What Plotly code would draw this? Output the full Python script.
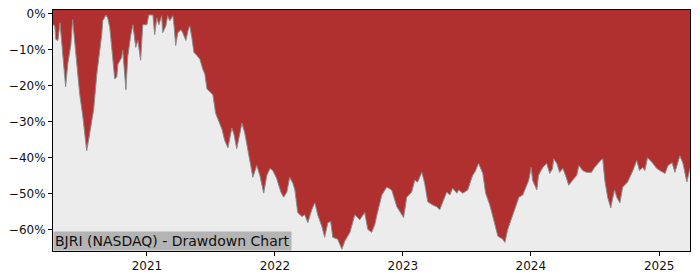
import plotly.graph_objects as go

# Drawdown of BJRI (percent below running peak)
dates = [
    "2020-04-08", "2020-04-13", "2020-04-16", "2020-04-22", "2020-04-28", "2020-05-03", "2020-05-06",
    "2020-05-14", "2020-05-20", "2020-05-29", "2020-06-03", "2020-06-09", "2020-06-15", "2020-06-23",
    "2020-07-02", "2020-07-10", "2020-07-13", "2020-07-19", "2020-07-28", "2020-08-02", "2020-08-11",
    "2020-08-19", "2020-08-25", "2020-08-28", "2020-09-06", "2020-09-11", "2020-09-17", "2020-09-26",
    "2020-10-01", "2020-10-07", "2020-10-10", "2020-10-21", "2020-10-24", "2020-11-02", "2020-11-07",
    "2020-11-16", "2020-11-22", "2020-11-30", "2020-12-06", "2020-12-14", "2020-12-20",
    "2021-01-01", "2021-01-06", "2021-01-18", "2021-01-23", "2021-01-29", "2021-02-04", "2021-02-12",
    "2021-02-15", "2021-02-24", "2021-03-01", "2021-03-07", "2021-03-16", "2021-03-19", "2021-03-24",
    "2021-03-30", "2021-04-08", "2021-04-13", "2021-04-22", "2021-04-28", "2021-05-03", "2021-05-09",
    "2021-05-15", "2021-05-23", "2021-06-01", "2021-06-09", "2021-06-15", "2021-06-21", "2021-06-29",
    "2021-07-08", "2021-07-16", "2021-07-22", "2021-08-03", "2021-08-11", "2021-08-20", "2021-08-31",
    "2021-09-06", "2021-09-14", "2021-09-20", "2021-09-29", "2021-10-07", "2021-10-16", "2021-10-24",
    "2021-10-30", "2021-11-10", "2021-11-19", "2021-11-30", "2021-12-09", "2021-12-18", "2021-12-26",
    "2022-01-06", "2022-01-18", "2022-01-26", "2022-02-04", "2022-02-12", "2022-02-21", "2022-02-27",
    "2022-03-07", "2022-03-19", "2022-03-27", "2022-04-05", "2022-04-16", "2022-04-25", "2022-05-03",
    "2022-05-15", "2022-05-23", "2022-06-01", "2022-06-09", "2022-06-15", "2022-06-29", "2022-07-11",
    "2022-07-19", "2022-08-03", "2022-08-17", "2022-08-31", "2022-09-14", "2022-09-23", "2022-10-04",
    "2022-10-13", "2022-10-19", "2022-11-02", "2022-11-16", "2022-11-30", "2022-12-15",
    "2023-01-03", "2023-01-12", "2023-01-26", "2023-02-04", "2023-02-12", "2023-02-24", "2023-03-04",
    "2023-03-13", "2023-03-27", "2023-04-08", "2023-04-16", "2023-04-25", "2023-05-06", "2023-05-15",
    "2023-05-23", "2023-06-04", "2023-06-09", "2023-06-21", "2023-07-05", "2023-07-19", "2023-07-25",
    "2023-08-05", "2023-08-17", "2023-08-25", "2023-09-06", "2023-09-17", "2023-09-29", "2023-10-13",
    "2023-10-19", "2023-10-27", "2023-11-10", "2023-11-19", "2023-11-28", "2023-12-09", "2023-12-20",
    "2023-12-26",
    "2024-01-02", "2024-01-06", "2024-01-18", "2024-01-23", "2024-02-04", "2024-02-15", "2024-02-24",
    "2024-03-03", "2024-03-06", "2024-03-15", "2024-03-23", "2024-04-01", "2024-04-09", "2024-04-18",
    "2024-04-29", "2024-05-11", "2024-05-17", "2024-05-28", "2024-06-08", "2024-06-22", "2024-07-01",
    "2024-07-10", "2024-07-18", "2024-07-24", "2024-07-30", "2024-08-07", "2024-08-16", "2024-08-22",
    "2024-08-27", "2024-09-02", "2024-09-11", "2024-09-19", "2024-10-03", "2024-10-18", "2024-10-29",
    "2024-11-06", "2024-11-15", "2024-11-21", "2024-11-29", "2024-12-14", "2024-12-25",
    "2025-01-03", "2025-01-18", "2025-01-26", "2025-02-07", "2025-02-15", "2025-03-01", "2025-03-10",
    "2025-03-21", "2025-03-30",
]
drawdown = [
    -3.0, -3.3, -7.1, -7.4, -2.5, -7.4, -12.1,
    -20.3, -14.0, -8.5, -1.6, -7.4, -14.8, -22.2,
    -28.5, -35.9, -38.1, -34.8, -29.3, -26.6, -16.7,
    -11.2, -5.8, -1.9, -0.3, -1.1, -3.8, -12.9,
    -18.1, -17.5, -14.0, -12.1, -10.1, -21.1, -12.1,
    -5.8, -3.0, -9.3, -7.4, -12.9, -3.0,
    -3.0, -0.3, -0.3, -5.8, -1.1, -3.0, -0.5,
    -5.2, -3.3, -0.5, -1.9, -0.5, -3.0, -8.8,
    -5.2, -4.4, -5.2, -7.4, -4.7, -3.3, -6.6,
    -10.7, -11.5, -12.6, -15.3, -16.7, -20.8, -21.6,
    -22.5, -27.7, -29.0, -32.1, -35.3, -37.3, -31.8,
    -33.4, -37.5, -34.8, -30.4, -33.2, -38.6, -42.2,
    -45.5, -42.2, -44.9, -49.9, -44.9, -43.0, -43.6,
    -45.8, -49.6, -51.0, -49.6, -45.5, -47.1, -49.0,
    -55.3, -56.4, -55.9, -58.1, -54.5, -52.6, -55.9,
    -59.2, -62.2, -58.1, -57.8, -62.2, -62.7, -65.5,
    -63.3, -60.8, -55.9, -57.3, -55.3, -60.0, -60.8,
    -58.6, -55.9, -50.4, -48.2, -49.0, -53.7,
    -56.7, -51.0, -49.6, -46.3, -46.8, -44.1, -47.1,
    -52.3, -53.2, -53.7, -54.5, -52.3, -49.6, -50.4,
    -48.5, -49.9, -49.0, -49.9, -49.0, -44.9, -44.1,
    -41.6, -44.4, -49.9, -53.2, -57.3, -61.9, -62.7,
    -63.6, -60.0, -55.9, -53.7, -51.0, -50.4, -47.7,
    -46.3,
    -42.7, -46.3, -49.0, -44.9, -42.7, -41.6, -44.4,
    -43.0, -40.3, -41.6, -44.1, -43.0, -44.9, -47.7,
    -46.3, -44.9, -42.2, -43.6, -44.1, -44.1, -42.7,
    -41.6, -40.8, -40.3, -46.3, -51.0, -54.0, -51.0,
    -49.0, -51.0, -52.6, -48.2, -46.8, -43.6, -40.8,
    -43.6, -42.7, -43.6, -40.0, -41.6, -43.0,
    -43.6, -44.4, -42.2, -41.4, -44.1, -39.5, -41.6,
    -46.8, -43.0,
]

tick_vals = [0, -10, -20, -30, -40, -50, -60]
tick_text = ["0%", "\u221210%", "\u221220%", "\u221230%", "\u221240%", "\u221250%", "\u221260%"]
year_ticks = ["2021-01-01", "2022-01-01", "2023-01-01", "2024-01-01", "2025-01-01"]
year_labels = ["2021", "2022", "2023", "2024", "2025"]

Y_MIN, Y_MAX = -66.0, 1.1
RED = "#b03030"
GREY_BG = "#ececec"

fig = go.Figure()
# floor of the axis, used as the base of the grey (below-line) fill
fig.add_trace(go.Scatter(x=dates, y=[Y_MIN] * len(dates), mode="lines",
                         line=dict(width=0, color=GREY_BG), hoverinfo="skip"))
fig.add_trace(go.Scatter(x=dates, y=drawdown, mode="lines", fill="tonexty",
                         fillcolor=GREY_BG, line=dict(color="#8c8c8c", width=1)))

fig.add_annotation(text="BJRI (NASDAQ) - Drawdown Chart", xref="paper", yref="paper",
                   x=0, y=0, xanchor="left", yanchor="bottom", showarrow=False,
                   bgcolor="#b4b4b4", borderpad=1,
                   font=dict(family="DejaVu Sans", size=14, color="#111111"))

fig.update_layout(
    width=700, height=280,
    margin=dict(l=53, r=10, t=7, b=28),
    paper_bgcolor="white", plot_bgcolor=RED,
    showlegend=False,
    font=dict(family="DejaVu Sans", size=12, color="#111111"),
)
fig.update_xaxes(range=[dates[0], dates[-1]], type="date",
                 tickvals=year_ticks, ticktext=year_labels,
                 showgrid=False, zeroline=False, showline=True, mirror=True,
                 linecolor="black", linewidth=1, ticks="outside", ticklen=4,
                 tickcolor="black", tickfont=dict(size=12))
fig.update_yaxes(range=[Y_MIN, Y_MAX], tickvals=tick_vals, ticktext=tick_text,
                 showgrid=False, zeroline=False, showline=True, mirror=True,
                 linecolor="black", linewidth=1, ticks="outside", ticklen=4,
                 tickcolor="black", tickfont=dict(size=12))

fig.write_html("out.html")
